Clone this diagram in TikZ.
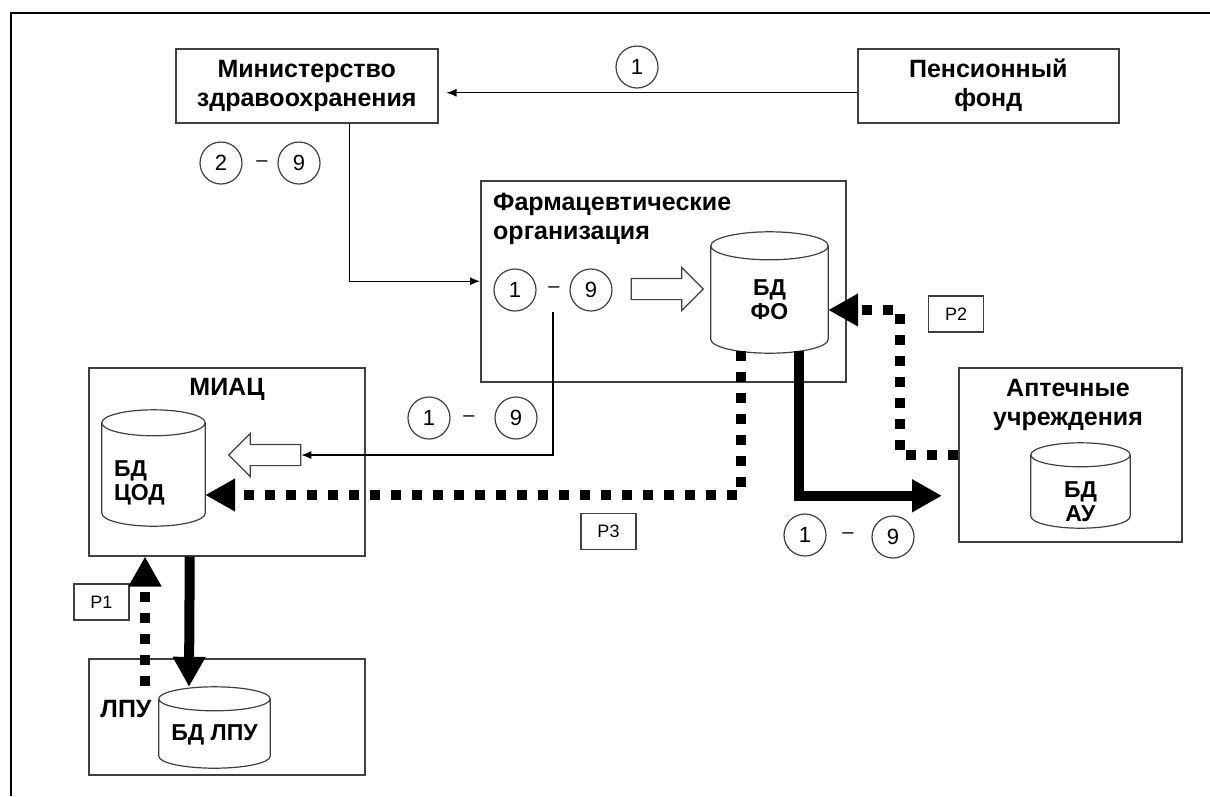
\documentclass[tikz,border=0pt]{standalone}
\usepackage{fontspec}
\setmainfont{Liberation Sans}
\usetikzlibrary{positioning, shapes.arrows, arrows.meta, calc}

\begin{document}
\begin{tikzpicture}[
        x=1pt, y=-1pt,
        org_node/.style={draw=black!75, line width=1.5pt, rectangle, anchor=north west, align=center, inner sep=0pt, font=\bfseries\fontsize{25}{29}\selectfont},
        title_node/.style={align=left, inner sep=0pt, font=\bfseries\fontsize{25}{29}\selectfont},
        database_node/.style={rectangle, inner sep=0pt},
        db_text/.style={align=center, inner sep=0pt, font=\bfseries\fontsize{23}{24}\selectfont},
        db_line/.style={draw=black!75, line width=1.2pt},
        num_node/.style={draw=black!75, line width=1.2pt, circle, minimum size=42pt, inner sep=0pt, font=\fontsize{22}{24}\selectfont},
        dash_node/.style={inner sep=0pt, font=\fontsize{20}{24}\selectfont},
        req_label/.style={draw=black!75, line width=1.2pt, rectangle, minimum width=55pt, minimum height=36pt, inner sep=0pt, font=\fontsize{18}{21}\selectfont},
        hollow_arrow/.style={draw=black!75, line width=1.2pt, single arrow, minimum height=72pt, inner xsep=0pt, inner ysep=10pt, single arrow head extend=11pt},
        thin_arrow/.style={-{Latex[length=10pt, width=8pt]}, line width=1.2pt},
        data_arrow/.style={-{Triangle[length=30pt, width=31pt]}, line width=10pt},
        req_arrow/.style={-{Triangle[length=30pt, width=31pt]}, line width=10pt, dash pattern=on 10pt off 11pt}
    ]
        \useasboundingbox (0,0) rectangle (1210,796);
        \draw[line width=2.5pt] (11,796) -- (11,13) -- (1210,13);

        % Nodes
        \node (ministry) [org_node, minimum width=262pt, minimum height=74pt] at (175,48) {Министерство\\здравоохранения};
        \node (pension) [org_node, minimum width=261pt, minimum height=74pt] at (857,48) {Пенсионный\\фонд};
        \node (pharma) [org_node, minimum width=365pt, minimum height=201pt] at (480,180) {};
        \node (pharma_title) [title_node, anchor=north west] at (493,193) {Фармацевтические\\организация};
        \node (miac) [org_node, minimum width=276pt, minimum height=188pt] at (88,367) {};
        \node (miac_title) [title_node] at (227,389) {МИАЦ};
        \node (lpu) [org_node, minimum width=276pt, minimum height=116pt] at (88,658) {};
        \node (lpu_title) [title_node] at (126,709) {ЛПУ};
        \node (pharmacy) [org_node, minimum width=223pt, minimum height=174pt] at (958,367) {};
        \node (pharmacy_title) [title_node, align=center] at (1068,405) {Аптечные\\учреждения};

        \node (db_fo) [database_node, minimum width=117pt, minimum height=121pt] at (769.5,292.5) {};
        \node (db_cod) [database_node, minimum width=103pt, minimum height=116pt] at (153.5,468) {};
        \node (db_au) [database_node, minimum width=99pt, minimum height=85pt] at (1080.5,485.5) {};
        \node (db_lpu) [database_node, minimum width=111pt, minimum height=81pt] at (214.5,727.5) {};
        \foreach \db/\ry in {db_fo/14pt, db_cod/13pt, db_au/12pt, db_lpu/12pt}
            \draw[db_line] let \p1=(\db.north west), \p2=(\db.south east), \n1={(\x2-\x1)/2} in
                (\x1+\n1,\y1-\ry) ellipse [x radius=\n1, y radius=\ry]
                (\x1,\y1-\ry) -- (\x1,\y2+\ry) arc [start angle=180, end angle=360, x radius=\n1, y radius=\ry] -- (\x2,\y1-\ry);
        \node (db_fo_text) [db_text] at ([yshift=-7.5pt]db_fo.center) {БД\\ФО};
        \node (db_cod_text) [db_text, align=left, anchor=west] at ([xshift=12pt, yshift=-14.5pt]db_cod.west) {БД\\ЦОД};
        \node (db_au_text) [db_text] at ([yshift=-16pt]db_au.center) {БД\\АУ};
        \node (db_lpu_text) [db_text] at ([yshift=-7.5pt]db_lpu.center) {БД ЛПУ};

        \node (fo_arrow) [hollow_arrow] at (662,289) {};
        \node (miac_arrow) [hollow_arrow, shape border rotate=180] at (270,455) {};

        \node (pf_1) [num_node] at (637,67) {1};
        \node (mz_2) [num_node] at (221,163) {2};
        \node (mz_9) [num_node] at (299,163) {9};
        \node (mz_dash) [dash_node] at (262,164) {--};
        \node (fo_1) [num_node] at (515,290) {1};
        \node (fo_9) [num_node] at (591,290) {9};
        \node (fo_dash) [dash_node] at (554,290) {--};
        \node (mi_1) [num_node] at (429,418) {1};
        \node (mi_9) [num_node] at (516,418) {9};
        \node (mi_dash) [dash_node] at (469,419) {--};
        \node (au_1) [num_node] at (805,535) {1};
        \node (au_9) [num_node] at (893,537) {9};
        \node (au_dash) [dash_node] at (848,536) {--};

        \node (p1) [req_label] at (101.5,602) {P1};
        \node (p2) [req_label] at (956,314) {P2};
        \node (p3) [req_label] at (608.5,531.5) {P3};

        \coordinate (fo_out) at (553,312);
        \coordinate (p1_start) at (145,686);

        % Arrows
        \draw [thin_arrow, shorten >=8pt] ([yshift=-7pt]pension.west) -- ([yshift=-7pt]pension.west -| ministry.east);
        \draw [thin_arrow] ([xshift=43pt]ministry.south) |- (pharma.west);
        \draw [thin_arrow] (fo_out) |- (miac_arrow.tail);
        \draw [req_arrow] ([xshift=-29pt, yshift=2pt]db_fo.south) |- ([yshift=-27pt]db_cod.east);
        \draw [data_arrow] ([xshift=29pt, yshift=2pt]db_fo.south) |- ([xshift=-16pt, yshift=-41pt]pharmacy.west);
        \draw [req_arrow] (pharmacy.west) -- ++(-58,0) |- ([yshift=-17.5pt]db_fo.east);
        \draw [data_arrow] ([xshift=-37pt]miac.south) -- ([xshift=-25.5pt]db_lpu.north);
        \draw [req_arrow] (p1_start) -- (p1_start |- miac.south);
    \end{tikzpicture}
\end{document}
